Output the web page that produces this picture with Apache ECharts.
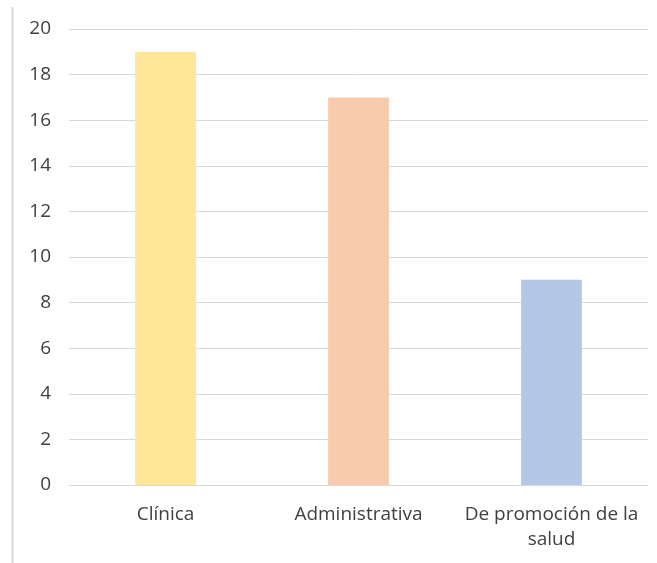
<!DOCTYPE html>
<html>
<head>
<meta charset="utf-8">
<script src="https://cdn.jsdelivr.net/npm/echarts@6/dist/echarts.min.js"></script>
<style>
html,body{margin:0;padding:0;background:#fff;}
#chart{width:657px;height:563px;}
</style>
</head>
<body>
<div id="chart"></div>
<script>
const categories = ["Clínica", "Administrativa", "De promoción de la salud"];
const values = [19, 17, 9];
const barColors = ["#FFE699", "#F8CBAD", "#B4C7E7"];
const yTicks = [0, 2, 4, 6, 8, 10, 12, 14, 16, 18, 20];

const chart = echarts.init(document.getElementById('chart'));
chart.setOption({
  animation: false,
  backgroundColor: '#fff',
  graphic: [{
    type: 'line',
    shape: {x1: 12.5, y1: 7, x2: 12.5, y2: 563},
    style: {stroke: '#d9d9d9', lineWidth: 2}
  }],
  grid: {left: 69, right: 9, top: 29, bottom: 78, containLabel: false},
  xAxis: {
    type: 'category',
    data: categories,
    axisLine: {show: true, lineStyle: {color: '#d9d9d9', width: 1}},
    axisTick: {show: false},
    axisLabel: {
      color: '#404040',
      fontFamily: '"Open Sans", sans-serif',
      fontSize: 19,
      margin: 17,
      lineHeight: 25,
      interval: 0,
      formatter: v => v === "De promoción de la salud" ? "De promoción de la\nsalud" : v
    }
  },
  yAxis: {
    type: 'value',
    min: yTicks[0],
    max: yTicks[yTicks.length - 1],
    interval: 2,
    axisLine: {show: false},
    axisTick: {show: false},
    splitLine: {lineStyle: {color: '#d9d9d9', width: 1}},
    axisLabel: {
      color: '#404040',
      fontFamily: '"Open Sans", sans-serif',
      fontSize: 19,
      margin: 18
    }
  },
  series: [{
    type: 'bar',
    barWidth: '31.5%',
    data: values.map((v, i) => ({value: v, itemStyle: {color: barColors[i]}}))
  }]
});
</script>
</body>
</html>
